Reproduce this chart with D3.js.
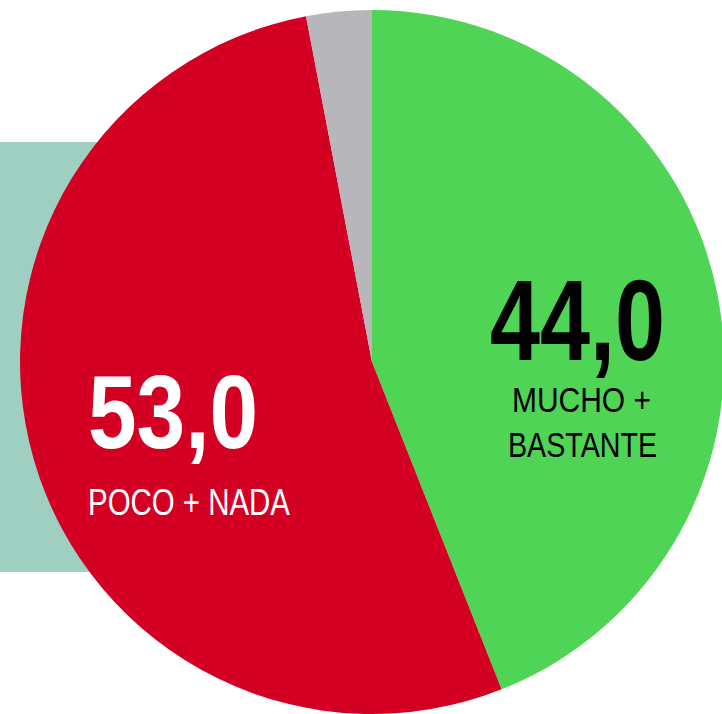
<!DOCTYPE html>
<html>
<head>
<meta charset="utf-8">
<script src="https://cdn.jsdelivr.net/npm/d3@7.9.0/dist/d3.min.js"></script>
<style>
  html, body { margin: 0; padding: 0; background: #fff; }
  svg { display: block; }
  text { font-family: "Liberation Sans", Arial, sans-serif; }
</style>
</head>
<body>
<svg id="chart" width="722" height="714"></svg>
<script>
// slice data, clockwise from 12 o'clock
const labels = ['MUCHO + BASTANTE', 'POCO + NADA', 'NS/NC'];
const values = [44.0, 53.0, 3.0];
const colors = ['#4fd455', '#d40024', '#b7b6ba'];

const width = 722, height = 714;
const cx = 372, cy = 362, radius = 352;

const svg = d3.select('#chart');

// teal panel behind the pie
svg.append('rect')
  .attr('x', 0)
  .attr('y', 142)
  .attr('width', 200)
  .attr('height', 430)
  .attr('fill', '#9fcfc0');

const pie = d3.pie().sort(null).value(d => d)(values);
const arc = d3.arc().innerRadius(0).outerRadius(radius);

const g = svg.append('g').attr('transform', `translate(${cx},${cy})`);

g.selectAll('path')
  .data(pie)
  .join('path')
  .attr('d', arc)
  .attr('fill', (d, i) => colors[i]);

const fmt = v => v.toFixed(1).replace('.', ',');

// condensed look: squeeze glyphs to the widths seen in the original
function label(x, y, size, weight, fill, len, txt) {
  svg.append('text')
    .attr('x', x).attr('y', y)
    .attr('font-size', size)
    .attr('font-weight', weight)
    .attr('fill', fill)
    .attr('textLength', len)
    .attr('lengthAdjust', 'spacingAndGlyphs')
    .text(txt);
}

// red slice
label(88, 448, 104, 'bold', '#fff', 170, fmt(values[1]));
label(88, 515, 36, 'normal', '#fff', 202, labels[1]);

// green slice
label(490, 360, 115, 'bold', '#000', 175, fmt(values[0]));
label(512, 412, 35, 'normal', '#000', 139, 'MUCHO +');
label(508, 457, 35, 'normal', '#000', 149, 'BASTANTE');
</script>
</body>
</html>
